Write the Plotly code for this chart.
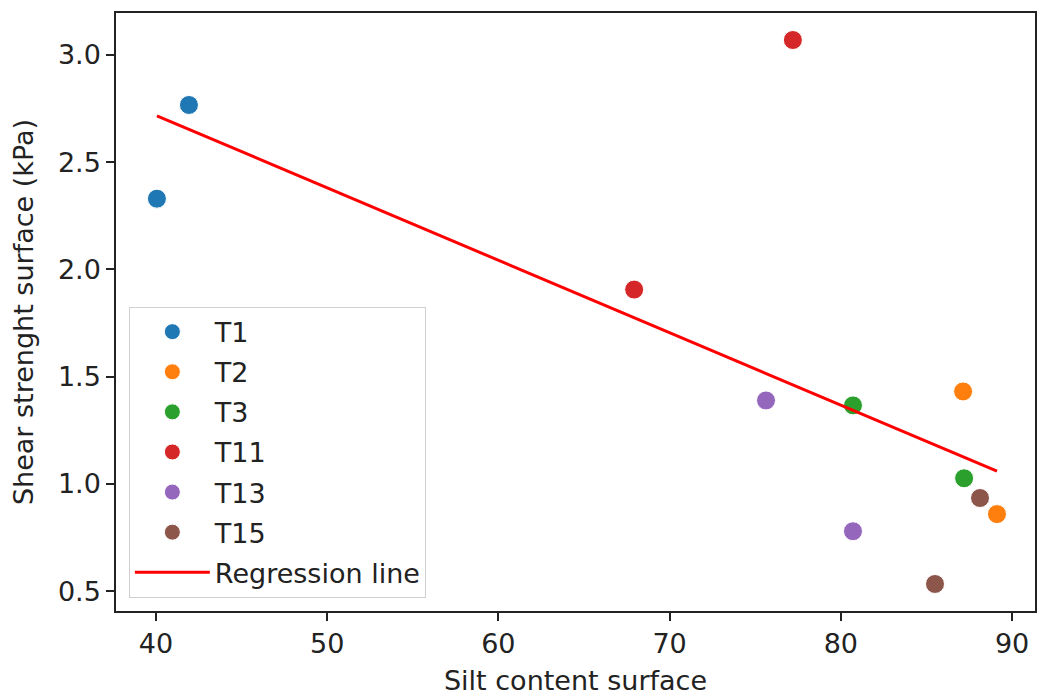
import numpy as np
import plotly.graph_objects as go

groups = ["T1", "T2", "T3", "T11", "T13", "T15"]
silt = {
    "T1": [40.06, 41.93],
    "T2": [87.14, 89.12],
    "T3": [80.71, 87.20],
    "T11": [77.20, 67.93],
    "T13": [75.63, 80.71],
    "T15": [88.13, 85.50],
}
shear = {
    "T1": [2.330, 2.767],
    "T2": [1.431, 0.859],
    "T3": [1.366, 1.026],
    "T11": [3.070, 1.906],
    "T13": [1.389, 0.779],
    "T15": [0.934, 0.533],
}
colors = ["#1f77b4", "#ff7f0e", "#2ca02c", "#d62728", "#9467bd", "#8c564b"]
x_ticks = [40, 50, 60, 70, 80, 90]
y_ticks = [0.5, 1.0, 1.5, 2.0, 2.5, 3.0]

FONT = "DejaVu Sans"
FS = 27

fig = go.Figure()
for g, c in zip(groups, colors):
    fig.add_trace(go.Scatter(
        x=silt[g], y=shear[g], mode="markers", name=g, legendgroup=g,
        marker=dict(color=c, size=19, line=dict(color="white", width=1)),
    ))

all_x = np.concatenate([silt[g] for g in groups])
all_y = np.concatenate([shear[g] for g in groups])
slope, intercept = np.polyfit(all_x, all_y, 1)
lx = np.array([all_x.min(), all_x.max()])
fig.add_trace(go.Scatter(
    x=lx, y=slope * lx + intercept, mode="lines", name="Regression line",
    legendgroup="reg", line=dict(color="red", width=3),
))

axis_common = dict(
    showline=True, linecolor="#222", linewidth=1.5, mirror=True,
    ticks="outside", ticklen=8, tickwidth=1.5, tickcolor="#222",
    showgrid=False, zeroline=False,
    tickfont=dict(family=FONT, size=FS, color="#222"),
)

fig.update_layout(
    width=1041, height=696,
    margin=dict(l=116, r=4, t=13, b=84),
    paper_bgcolor="white", plot_bgcolor="white",
    font=dict(family=FONT, size=FS, color="#222"),
    xaxis=dict(range=[37.67, 91.34], tickvals=x_ticks,
               ticktext=[str(v) for v in x_ticks],
               title=dict(text="Silt content surface", font=dict(family=FONT, size=FS, color="#222"), standoff=14),
               **axis_common),
    yaxis=dict(range=[0.407, 3.196], tickvals=y_ticks,
               ticktext=[f"{v:.1f}" for v in y_ticks],
               title=dict(text="Shear strenght surface (kPa)", font=dict(family=FONT, size=FS, color="#222"), standoff=16),
               **axis_common),
    legend=dict(
        x=0.014, y=0.509, xanchor="left", yanchor="top",
        bgcolor="rgba(255,255,255,0.8)", bordercolor="#d0d0d0", borderwidth=1,
        font=dict(family=FONT, size=FS, color="#222"),
        tracegroupgap=2, traceorder="grouped", itemwidth=75,
    ),
    showlegend=True,
)

fig.write_html("out.html")
